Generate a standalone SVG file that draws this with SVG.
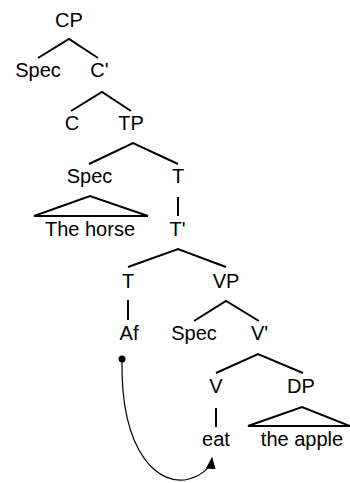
<svg xmlns="http://www.w3.org/2000/svg" width="350" height="483" viewBox="0 0 350 483">
  <style>
    text { font-family: "Liberation Sans", Arial, sans-serif; font-size: 20px; fill: #000; text-anchor: middle; }
    .br { stroke: #000; stroke-width: 2; fill: none; stroke-linecap: butt; }
    .tri { stroke: #000; stroke-width: 2; fill: none; stroke-linejoin: miter; }
    .mv { stroke: #000; stroke-width: 1.2; fill: none; }
  </style>
  <defs>
    <marker id="head" viewBox="0 0 12 10" refX="11" refY="5" markerWidth="12" markerHeight="10" markerUnits="userSpaceOnUse" orient="auto">
      <path d="M0,0 L12,5 L0,10 Z" fill="#000"/>
    </marker>
  </defs>

  <rect width="350" height="483" fill="#fff"/>

  <!-- branches -->
  <g id="connectors">
    <path class="br" d="M38,58 L69,39 L98,58"/>
    <path class="br" d="M71,111 L102,92 L131,111"/>
    <path class="br" d="M89,164 L133,143 L178,164"/>
    <path class="br" d="M178,197 L178,216"/>
    <path class="br" d="M128,267 L178,249 L226,267"/>
    <path class="br" d="M128,300 L128,320"/>
    <path class="br" d="M194,321 L226,301 L259,321"/>
    <path class="br" d="M216,373 L258,354 L303,373"/>
    <path class="br" d="M216,408 L216,427"/>
    <path class="tri" d="M34,216 L90,196 L148,216 Z"/>
    <path class="tri" d="M248,426 L302,407 L350,426 Z"/>
    <!-- head movement of the affix down to the verb -->
    <circle cx="122" cy="359" r="3.5" fill="#000"/>
    <path class="mv" d="M122,362 C121,455 160,487 189,479 C203,475 211,467 212,458" marker-end="url(#head)"/>
  </g>

  <g id="cp"><text x="69" y="27">CP</text></g>
  <g id="spec-cp"><text x="38" y="77">Spec</text></g>
  <g id="c-bar"><text x="99.5" y="77">C'</text></g>
  <g id="c"><text x="72" y="130">C</text></g>
  <g id="tp"><text x="131" y="130">TP</text></g>
  <g id="spec-tp"><text x="89.5" y="183">Spec</text></g>
  <g id="t-upper"><text x="178" y="183">T</text></g>
  <g id="the-horse"><text x="90" y="236">The horse</text></g>
  <g id="t-bar"><text x="177.5" y="236">T'</text></g>
  <g id="t"><text x="128" y="288">T</text></g>
  <g id="vp"><text x="226" y="288">VP</text></g>
  <g id="af"><text x="129" y="340">Af</text></g>
  <g id="spec-vp"><text x="194" y="340">Spec</text></g>
  <g id="v-bar"><text x="259.5" y="340">V'</text></g>
  <g id="v"><text x="216" y="393">V</text></g>
  <g id="dp"><text x="301" y="393">DP</text></g>
  <g id="eat"><text x="216" y="446">eat</text></g>
  <g id="the-apple"><text x="302" y="446">the apple</text></g>
</svg>
